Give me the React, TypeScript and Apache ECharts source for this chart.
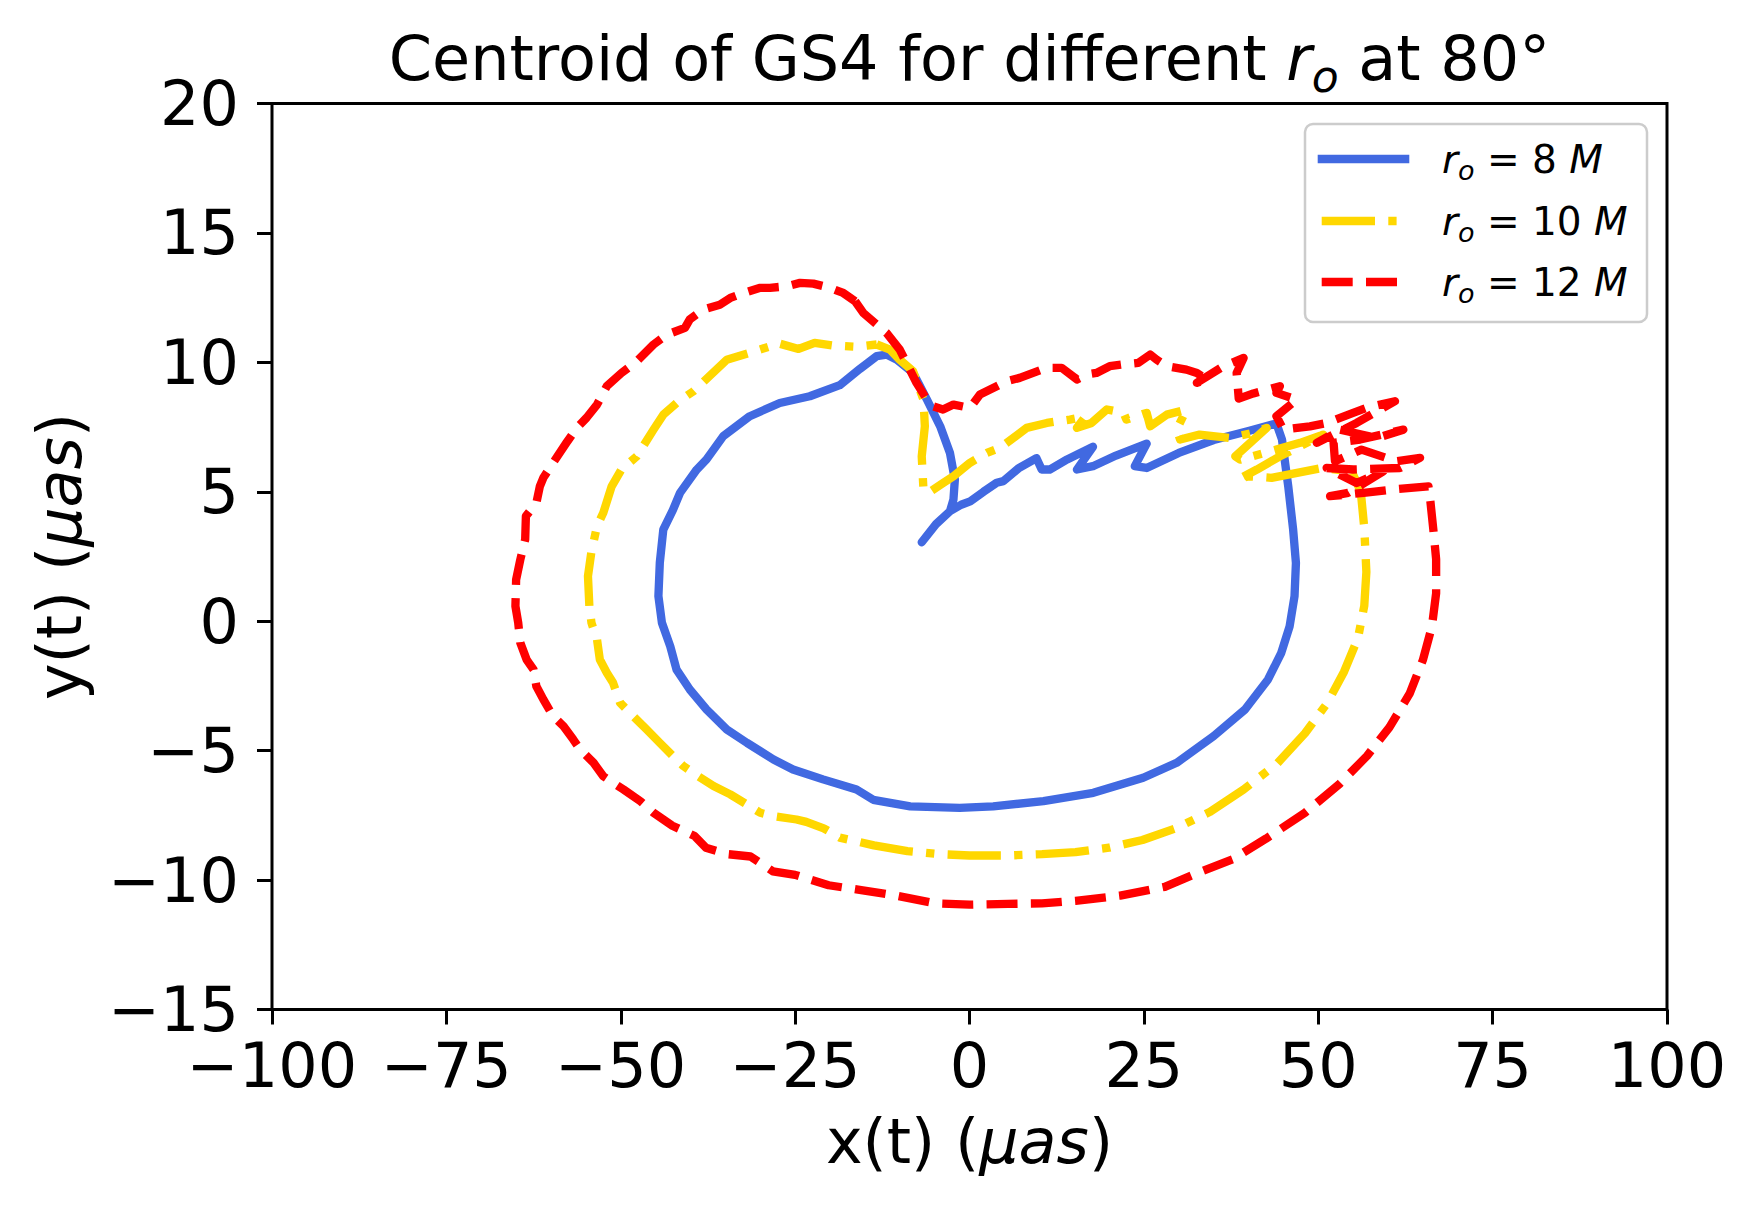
import React, { useEffect, useRef } from "react";
import * as echarts from "echarts";

const FONT = "DejaVu Sans";
const FS = 62;

const xTicks = [-100, -75, -50, -25, 0, 25, 50, 75, 100];
const yTicks = [-15, -10, -5, 0, 5, 10, 15, 20];

const seriesNames = ["r_o = 8 M", "r_o = 10 M", "r_o = 12 M"];
const seriesLabels = ["8", "10", "12"];
const seriesColors = ["#4169E1", "#FFD700", "#FF0000"];

// r_o = 8 M (solid)
const r8X = [-6.85, -4.8, -2.8, -1.2, 0.1, 2.0, 3.9, 4.85, 7.0, 9.6, 10.35, 11.5, 14.0, 17.7, 15.4, 17.7, 21.0, 25.4, 23.7, 25.4, 30, 35, 40, 44.0, 44.8, 45.7, 46.4, 46.8, 46.6, 45.9, 44.7, 42.8, 39.5, 35.0, 29.7, 24.9, 17.75, 10.6, 3.4, -1.4, -8.5, -13.8, -16.2, -21, -25.3, -28.1, -31.9, -34.8, -37.7, -40.1, -42.0, -42.9, -44.1, -44.6, -44.4, -43.9, -42.5, -41.5, -39.1, -37.7, -35.3, -31.5, -27.2, -22.9, -18.6, -15.7, -13.3, -11.9, -10.4, -8.1, -6.1, -4.2, -2.8, -2.1, -2.3, -2.8];
const r8Y = [3.05, 3.75, 4.25, 4.5, 4.63, 5.0, 5.35, 5.41, 5.9, 6.3, 5.86, 5.86, 6.25, 6.74, 5.86, 5.99, 6.4, 6.86, 5.99, 5.92, 6.5, 7.0, 7.35, 7.64, 7.02, 5.21, 3.54, 2.25, 0.97, -0.19, -1.22, -2.25, -3.41, -4.44, -5.47, -6.05, -6.63, -6.95, -7.15, -7.21, -7.15, -6.9, -6.5, -6.11, -5.73, -5.34, -4.7, -4.18, -3.41, -2.64, -1.87, -0.97, -0.06, 0.97, 2.26, 3.54, 4.31, 4.96, 5.86, 6.25, 7.15, 7.92, 8.43, 8.69, 9.12, 9.75, 10.24, 10.3, 10.1, 9.6, 8.56, 7.53, 6.5, 5.47, 4.7, 4.25];

// r_o = 10 M (dash-dot)
const r10X = [-13.3, -11.4, -10.0, -8.1, -6.6, -6.4, -6.85, -6.6, -5.9, -4.0, -2.3, 0.07, 2.5, 4.4, 6.3, 8.2, 11.1, 14.4, 16.6, 15.4, 17.5, 19.7, 22.1, 22.5, 25.4, 25.9, 28.3, 31.1, 29.7, 30.2, 33.0, 37.3, 40.7, 42.6, 38.1, 38.8, 44.0, 47.4, 50.7, 44.5, 41.2, 38.5, 40.0, 43.3, 50.5, 54.8, 56.1, 56.6, 56.9, 56.6, 55.7, 53.7, 51.3, 48.1, 44.1, 39.3, 34.5, 29.6, 24.8, 20.0, 15.2, 10.4, 5.5, 0, -4.1, -8.9, -13.7, -18.6, -20.9, -23.4, -24.8, -28.1, -30.0, -31.5, -34.3, -36.7, -38.9, -41.0, -42.5, -44.4, -46.3, -48.2, -50.1, -51.1, -52.0, -53.0, -53.4, -54.2, -54.5, -54.7, -54.2, -53.4, -52.5, -51.3, -49.9, -47.7, -45.3, -43.9, -41.7, -39.6, -34.8, -31.5, -28.6, -27.6, -24.5, -22.2, -19.6, -16.2, -13.3];
const r10Y = [10.69, 10.49, 10.1, 9.66, 8.56, 7.53, 6.37, 5.09, 4.96, 5.3, 5.6, 6.12, 6.5, 6.7, 7.08, 7.47, 7.66, 7.79, 7.9, 7.47, 7.66, 8.18, 8.05, 7.79, 8.05, 7.53, 7.98, 8.18, 7.4, 7.02, 7.21, 7.08, 7.28, 7.47, 6.37, 6.24, 6.63, 6.89, 7.21, 6.37, 5.86, 5.47, 5.6, 5.54, 5.92, 5.79, 5.0, 3.6, 1.9, 0.6, -0.65, -1.95, -3.16, -4.33, -5.5, -6.5, -7.36, -8.0, -8.45, -8.75, -8.92, -9.0, -9.05, -9.05, -9.0, -8.88, -8.66, -8.36, -8.0, -7.75, -7.66, -7.53, -7.4, -7.15, -6.69, -6.37, -5.99, -5.6, -5.21, -4.7, -4.18, -3.67, -3.15, -2.38, -1.99, -1.48, -0.71, -0.06, 0.58, 1.74, 2.7, 3.67, 4.19, 5.21, 5.86, 6.37, 7.4, 7.98, 8.5, 8.88, 10.1, 10.37, 10.62, 10.75, 10.52, 10.75, 10.65, 10.6, 10.69];

// r_o = 12 M (dashed)
const r12X = [-16.4, -15.2, -11.9, -10.0, -8.8, -7.6, -6.1, -5.2, -3.8, -2.3, 0.07, 1.5, 3.9, 5.3, 7.2, 11.1, 13.2, 15.4, 16.8, 18.2, 20.1, 22.0, 24.2, 25.9, 26.8, 28.3, 31.1, 32.6, 34.0, 32.6, 36.4, 39.3, 38.3, 38.6, 40.7, 44.5, 44.0, 46.9, 44.0, 45.0, 48.8, 51.2, 55.0, 56.9, 61.0, 55.5, 49.8, 53.1, 58.4, 62.2, 56.0, 52.2, 52.4, 56.2, 61.2, 64.6, 61.7, 55.0, 51.2, 55.5, 59.3, 54.3, 51.7, 56.5, 60.8, 65.8, 66.0, 66.5, 66.9, 66.9, 66.3, 65.0, 63.1, 60.2, 57.0, 53.0, 48.1, 42.5, 37.7, 32.9, 28.0, 21.6, 15.2, 10.4, 5.5, 0, -4.9, -10.5, -15.3, -20.2, -25, -28.2, -31.4, -34.6, -37.8, -39.4, -42.6, -45.3, -47.2, -49.6, -52.5, -53.9, -55.8, -56.8, -58.2, -59.7, -61.1, -62.1, -62.5, -63.5, -64.4, -64.7, -65.1, -65.0, -64.4, -63.7, -63.6, -62.1, -61.6, -61.1, -59.7, -57.8, -56.3, -54.9, -53.4, -52.0, -49.9, -47.7, -45.3, -43.4, -40.8, -40.1, -38.2, -35.8, -34.3, -32.4, -30.0, -28.6, -26.2, -24.3, -22.4, -20.0, -18.1, -16.4];
const r12Y = [12.36, 11.9, 11.14, 10.49, 9.85, 9.21, 8.56, 8.3, 8.18, 8.37, 8.24, 8.76, 9.08, 9.27, 9.4, 9.79, 9.79, 9.34, 9.53, 9.59, 9.85, 9.92, 9.98, 10.3, 10.11, 9.85, 9.72, 9.59, 9.34, 9.21, 9.85, 10.17, 9.59, 8.6, 8.8, 9.08, 8.82, 8.56, 7.92, 7.4, 7.53, 7.66, 8.05, 8.24, 8.5, 7.66, 6.89, 7.4, 7.08, 7.4, 7.02, 6.89, 6.18, 6.63, 6.18, 6.31, 5.92, 5.86, 5.92, 5.34, 5.79, 4.96, 4.83, 4.96, 5.09, 5.21, 4.83, 3.54, 2.4, 1.08, -0.2, -1.5, -2.8, -4.1, -5.2, -6.3, -7.4, -8.4, -9.2, -9.7, -10.26, -10.6, -10.8, -10.9, -10.92, -10.95, -10.9, -10.6, -10.4, -10.2, -9.8, -9.66, -9.09, -9.0, -8.75, -8.3, -7.9, -7.4, -6.95, -6.5, -5.99, -5.47, -4.96, -4.57, -4.06, -3.67, -3.02, -2.51, -1.87, -1.48, -0.83, -0.06, 0.58, 1.61, 2.38, 3.16, 4.06, 4.57, 5.21, 5.54, 6.12, 6.89, 7.47, 7.86, 8.37, 9.08, 9.59, 10.04, 10.69, 11.07, 11.33, 11.66, 12.04, 12.23, 12.49, 12.68, 12.88, 12.88, 12.94, 13.07, 13.04, 12.88, 12.68, 12.36];

const LW = 8.33;
const dashPatterns: any[] = ["solid", [53.3, 13.3, 8.3, 13.3], [31, 13.3]];

const zip = (xs: number[], ys: number[]) => xs.map((x, i) => [x, ys[i]]);
const minus = (v: number) => String(v).replace("-", "\u2212");

export default function App() {
  const ref = useRef<HTMLDivElement>(null);
  useEffect(() => {
    document.body.style.margin = "0";
    const chart = echarts.init(ref.current!, null, { renderer: "svg" });
    const datas = [zip(r8X, r8Y), zip(r10X, r10Y), zip(r12X, r12Y)];

    const legendRows = [159, 221, 282];
    const legendGraphics: any[] = [
      {
        type: "rect",
        shape: { x: 1305, y: 124, width: 342, height: 198, r: 8 },
        style: { fill: "rgba(255,255,255,0.8)", stroke: "#cccccc", lineWidth: 2.5 },
        z: 100,
      },
    ];
    seriesNames.forEach((_, i) => {
      legendGraphics.push({
        type: "line",
        shape: { x1: i === 0 ? 1317.7 : 1321.7, y1: legendRows[i], x2: i === 0 ? 1409.3 : 1405.3, y2: legendRows[i] },
        style: {
          stroke: seriesColors[i],
          lineWidth: LW,
          lineDash: i === 0 ? null : dashPatterns[i],
          lineCap: "butt",
        },
        z: 101,
      });
      legendGraphics.push({
        type: "text",
        x: 1442,
        y: legendRows[i],
        style: {
          text: `{r|r}{s|o}{n| = ${seriesLabels[i]} }{r|M}`,
          align: "left",
          verticalAlign: "middle",
          fill: "#000",
          font: `39px '${FONT}'`,
          rich: {
            r: { fontStyle: "italic", fontSize: 39, fontFamily: FONT, lineHeight: 50 },
            s: { fontStyle: "italic", fontSize: 27, fontFamily: FONT, lineHeight: 26, verticalAlign: "bottom" },
            n: { fontSize: 39, fontFamily: FONT, lineHeight: 50 },
          },
        },
        z: 101,
      });
    });

    chart.setOption({
      animation: false,
      backgroundColor: "#fff",
      grid: {
        left: 272,
        right: 89,
        top: 103.5,
        bottom: 199.5,
        show: true,
        borderColor: "#000",
        borderWidth: 3,
        backgroundColor: "transparent",
        containLabel: false,
      },
      xAxis: {
        type: "value",
        min: xTicks[0],
        max: xTicks[xTicks.length - 1],
        interval: 25,
        axisLine: { show: false, onZero: false },
        axisTick: { show: true, inside: false, length: 15, lineStyle: { color: "#000", width: 3 } },
        axisLabel: { margin: 25, color: "#000", fontSize: FS, fontFamily: FONT, formatter: minus },
        splitLine: { show: false },
        name: "x(t) ({i|\u03bcas})",
        nameLocation: "middle",
        nameGap: 101,
        nameTextStyle: {
          color: "#000",
          fontSize: FS,
          fontFamily: FONT,
          rich: { i: { fontStyle: "italic", fontSize: FS, fontFamily: FONT, color: "#000" } },
        },
      },
      yAxis: {
        type: "value",
        min: yTicks[0],
        max: yTicks[yTicks.length - 1],
        interval: 5,
        axisLine: { show: false, onZero: false },
        axisTick: { show: true, inside: false, length: 15, lineStyle: { color: "#000", width: 3 } },
        axisLabel: { margin: 33, color: "#000", fontSize: FS, fontFamily: FONT, formatter: minus },
        splitLine: { show: false },
        name: "y(t) ({i|\u03bcas})",
        nameLocation: "middle",
        nameGap: 182,
        nameRotate: 90,
        nameTextStyle: {
          color: "#000",
          fontSize: FS,
          fontFamily: FONT,
          rich: { i: { fontStyle: "italic", fontSize: FS, fontFamily: FONT, color: "#000" } },
        },
      },
      graphic: [
        {
          type: "text",
          x: 969.5,
          y: 58,
          style: {
            text: "{n|Centroid of GS4 for different }{r|r}{s|o}{n| at 80\u00b0}",
            align: "center",
            verticalAlign: "middle",
            fill: "#000",
            font: `${FS}px '${FONT}'`,
            rich: {
              n: { fontSize: FS, fontFamily: FONT, lineHeight: 80 },
              r: { fontSize: FS, fontFamily: FONT, fontStyle: "italic", lineHeight: 80 },
              s: { fontSize: 44, fontFamily: FONT, fontStyle: "italic", lineHeight: 47, verticalAlign: "bottom" },
            },
          },
        },
        ...legendGraphics,
      ],
      series: seriesNames.map((name, i) => ({
        name,
        type: "line",
        data: datas[i],
        symbol: "none",
        showSymbol: false,
        smooth: false,
        clip: true,
        lineStyle: {
          color: seriesColors[i],
          width: LW,
          type: dashPatterns[i],
          cap: i === 0 ? "round" : "butt",
          join: "round",
        },
        z: 3 + i,
      })),
    });
    return () => chart.dispose();
  }, []);
  return <div ref={ref} style={{ width: 1756, height: 1209 }} />;
}
